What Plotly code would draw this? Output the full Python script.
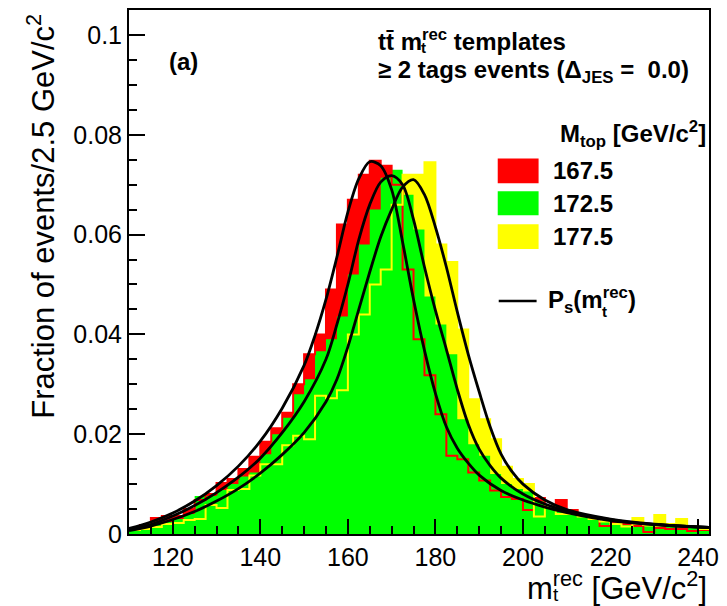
import plotly.graph_objects as go

# Reconstructed top-mass templates, >= 2 tags, Delta_JES = 0.0
# 2.5 GeV/c^2 bins from 110 to 242.5 GeV/c^2
bin_edges = [110.0 + 2.5 * k for k in range(54)]

hist_1675 = [0.0012, 0.0018, 0.0032, 0.0036, 0.0036, 0.0050, 0.0068, 0.0080, 0.0102, 0.0110,
             0.0130, 0.0155, 0.0185, 0.0212, 0.0243, 0.0300, 0.0360, 0.0400, 0.0490, 0.0620,
             0.0670, 0.0720, 0.0748, 0.0738, 0.0700, 0.0530, 0.0390, 0.0318, 0.0240, 0.0157,
             0.0150, 0.0123, 0.0107, 0.0087, 0.0074, 0.0070, 0.0048, 0.0072, 0.0055, 0.0068,
             0.0048, 0.0036, 0.0034, 0.0016, 0.0024, 0.0020, 0.0016, 0.0004, 0.0012, 0.0010,
             0.0010, 0.0006, 0.0008]

hist_1725 = [0.0012, 0.0014, 0.0018, 0.0024, 0.0030, 0.0040, 0.0076, 0.0076, 0.0088, 0.0100,
             0.0115, 0.0123, 0.0160, 0.0200, 0.0233, 0.0280, 0.0310, 0.0366, 0.0390, 0.0436,
             0.0520, 0.0580, 0.0650, 0.0714, 0.0730, 0.0680, 0.0610, 0.0476, 0.0420, 0.0360,
             0.0230, 0.0180, 0.0157, 0.0120, 0.0100, 0.0090, 0.0085, 0.0065, 0.0058, 0.0050,
             0.0045, 0.0040, 0.0028, 0.0026, 0.0020, 0.0020, 0.0018, 0.0015, 0.0012, 0.0014,
             0.0013, 0.0012, 0.0010]

hist_1775 = [0.0008, 0.0010, 0.0014, 0.0020, 0.0022, 0.0028, 0.0030, 0.0058, 0.0052, 0.0088,
             0.0090, 0.0117, 0.0140, 0.0140, 0.0178, 0.0197, 0.0190, 0.0277, 0.0272, 0.0288,
             0.0400, 0.0440, 0.0500, 0.0530, 0.0660, 0.0720, 0.0720, 0.0745, 0.0580, 0.0545,
             0.0410, 0.0270, 0.0230, 0.0190, 0.0135, 0.0110, 0.0100, 0.0035, 0.0055, 0.0040,
             0.0040, 0.0035, 0.0030, 0.0025, 0.0020, 0.0015, 0.0032, 0.0018, 0.0038, 0.0020,
             0.0030, 0.0015, 0.0010]

# Signal parametrisation P_s(m_t^rec) for each template
fit_m_1675 = [110, 115, 120, 125, 130, 135, 140, 145, 150, 152.5, 155, 157.5, 160, 162.5, 165,
              167.5, 170, 172.5, 175, 177.5, 180, 182.5, 185, 187.5, 190, 195, 200, 205, 210,
              220, 230, 242.5]
fit_v_1675 = [0.0011, 0.0024, 0.0042, 0.0066, 0.0097, 0.0136, 0.0186, 0.0252, 0.0338, 0.0398,
              0.0470, 0.0555, 0.0645, 0.0712, 0.0746, 0.0738, 0.0690, 0.0585, 0.0470, 0.0368,
              0.0282, 0.0215, 0.0172, 0.0142, 0.0118, 0.0087, 0.0068, 0.0054, 0.0043, 0.0027,
              0.0019, 0.0013]

fit_m_1725 = [110, 115, 120, 125, 130, 135, 140, 145, 150, 155, 157.5, 160, 162.5, 165, 167.5,
              170, 172.5, 175, 177.5, 180, 182.5, 185, 187.5, 190, 192.5, 195, 200, 205, 210,
              220, 230, 242.5]
fit_v_1725 = [0.0009, 0.0019, 0.0036, 0.0057, 0.0083, 0.0114, 0.0152, 0.0203, 0.0265, 0.0350,
              0.0420, 0.0500, 0.0590, 0.0660, 0.0705, 0.0718, 0.0700, 0.0630, 0.0535, 0.0448,
              0.0370, 0.0290, 0.0220, 0.0170, 0.0137, 0.0112, 0.0080, 0.0060, 0.0046, 0.0029,
              0.0019, 0.0013]

fit_m_1775 = [110, 115, 120, 125, 130, 135, 140, 145, 150, 155, 157.5, 160, 162.5, 165, 167.5,
              170, 172.5, 175, 177.5, 180, 182.5, 185, 187.5, 190, 192.5, 195, 197.5, 200, 205,
              210, 220, 230, 242.5]
fit_v_1775 = [0.0007, 0.0016, 0.0029, 0.0045, 0.0066, 0.0091, 0.0122, 0.0159, 0.0203, 0.0265,
              0.0310, 0.0375, 0.0450, 0.0525, 0.0595, 0.0650, 0.0695, 0.0710, 0.0680, 0.0615,
              0.0535, 0.0445, 0.0360, 0.0285, 0.0215, 0.0160, 0.0125, 0.0100, 0.0068, 0.0049,
              0.0030, 0.0020, 0.0013]

mass_labels = ["167.5", "172.5", "177.5"]
RED, GREEN, YELLOW = "#FF0000", "#00FF00", "#FFFF00"

W, H = 727, 606
L, R, T, B = 129, 711, 8, 534
PW, PH = R - L, B - T
FONT = "Liberation Sans"


def px(x):
    return (x - L) / PW


def py(y):
    return (B - y) / PH


def stepped(vals):
    return vals + [vals[-1]]


fig = go.Figure()

# filled histograms: red, yellow, then green on top
for vals, col in [(hist_1675, RED), (hist_1775, YELLOW), (hist_1725, GREEN)]:
    fig.add_trace(go.Scatter(x=bin_edges, y=stepped(vals), mode="lines",
                             line=dict(shape="hv", width=0, color=col),
                             fill="tozeroy", fillcolor=col, hoverinfo="skip"))

# red and yellow outlines redrawn over the green fill
for vals, col in [(hist_1675, RED), (hist_1775, YELLOW)]:
    fig.add_trace(go.Scatter(x=bin_edges, y=stepped(vals), mode="lines",
                             line=dict(shape="hv", width=2, color=col), hoverinfo="skip"))

for mm, vv in [(fit_m_1675, fit_v_1675), (fit_m_1725, fit_v_1725), (fit_m_1775, fit_v_1775)]:
    fig.add_trace(go.Scatter(x=mm, y=vv, mode="lines",
                             line=dict(shape="spline", smoothing=0.9, width=2.8, color="black"),
                             hoverinfo="skip"))

ann = []


def text(x, y, s, size=24, bold=True, xanchor="left", yanchor="middle", angle=0):
    ann.append(dict(x=px(x), y=py(y), xref="paper", yref="paper", text=s, showarrow=False,
                    xanchor=xanchor, yanchor=yanchor, textangle=angle,
                    font=dict(family=FONT, size=size, color="black",
                              weight="bold" if bold else "normal")))


text(184, 60, "(a)", xanchor="center")
text(377, 38, "tt\u0304 m<sup>rec</sup> templates")
text(420, 46, "t", size=15)
text(377, 70, "\u2265 2 tags events (\u0394<sub>JES</sub> =\u00a0\u00a00.0)")
text(559, 132, "M<sub>top</sub> [GeV/c<sup>2</sup>]")

shapes = []
for (y0, y1), col, lab in zip([(157, 182), (190, 214), (223, 248)], [RED, GREEN, YELLOW], mass_labels):
    shapes.append(dict(type="rect", xref="paper", yref="paper", x0=px(499), x1=px(540),
                       y0=py(y1), y1=py(y0), fillcolor=col, line=dict(width=0)))
    text(552, (y0 + y1) / 2, lab)

shapes.append(dict(type="line", xref="paper", yref="paper", x0=px(500), x1=px(538),
                   y0=py(300), y1=py(300), line=dict(color="black", width=2.5)))
text(547, 299, "P<sub>s</sub>(m<sup>rec</sup>)")
text(602, 311, "t", size=15)

# axis titles
text(41, 10, "Fraction of events/2.5 GeV/c<sup>2</sup>", size=31, bold=False,
     xanchor="center", yanchor="top", angle=-90)
text(711, 586, "m<sup>rec</sup> [GeV/c<sup>2</sup>]", size=31, bold=False, xanchor="right")
text(552, 595, "t", size=19, bold=False)

axis_common = dict(showline=True, linewidth=2, linecolor="black", mirror=True,
                   ticks="inside", tickwidth=1.5, tickcolor="black", showgrid=False,
                   zeroline=False, tickfont=dict(family=FONT, size=25, color="black"))

fig.update_layout(
    width=W, height=H,
    margin=dict(l=L, r=W - R, t=T, b=H - B),
    paper_bgcolor="white", plot_bgcolor="white",
    showlegend=False,
    xaxis=dict(range=[110, 242.5], dtick=20, tick0=0, ticklen=15,
               minor=dict(ticks="inside", ticklen=8, dtick=5, tick0=0, tickwidth=1.5,
                          tickcolor="black"), **axis_common),
    yaxis=dict(range=[0, 0.105], dtick=0.02, tick0=0, ticklen=16,
               minor=dict(ticks="inside", ticklen=8, dtick=0.005, tick0=0, tickwidth=1.5,
                          tickcolor="black"), **axis_common),
    annotations=ann, shapes=shapes,
)

fig.write_html("out.html")
